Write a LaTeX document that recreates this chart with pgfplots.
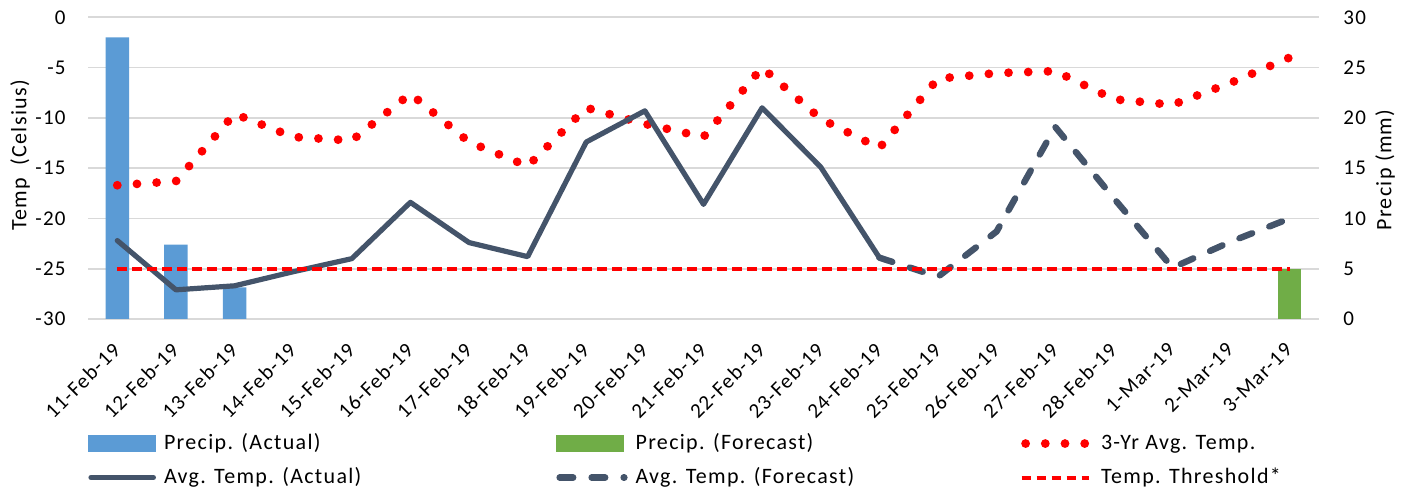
\documentclass[border=0pt]{standalone}
\usepackage{fontspec}
\setmainfont{Carlito}[LetterSpace=6]
\usepackage{pgfplots}
\pgfplotsset{compat=1.18}
\definecolor{barA}{HTML}{5B9BD5}
\definecolor{barF}{HTML}{70AD47}
\definecolor{tline}{HTML}{44546A}
\definecolor{gridc}{HTML}{D9D9D9}
\pgfplotsset{
  common/.style={
    at={(44pt,86pt)}, anchor=south west,
    width=615.5pt, height=150.85pt, scale only axis,
    xmin=-0.5, xmax=20.5,
    axis line style={draw=none},
    major tick length=0pt,
    /pgf/number format/assume math mode=true,
    tick label style={font=\fontsize{10.5}{12}\selectfont},
    label style={font=\fontsize{11}{13}\selectfont},
  },
  mylegline/.style 2 args={legend image code/.code={\draw[##1] (#1,0pt) -- (#2,0pt);}},
  mylegbox/.style={legend image code/.code={\fill[#1] (0pt,-4.15pt) rectangle (33.5pt,4.15pt);}},
}
\begin{document}
\begin{tikzpicture}
\begin{axis}[common,
  ymin=0, ymax=30,
  axis x line=none,
  axis y line*=right,
  ytick={0,5,...,30},
  ymajorgrids, grid style={gridc, line width=0.8pt},
  yticklabel style={inner sep=0pt, anchor=west, xshift=12pt},
  ylabel={Precip (mm)},
  ylabel style={at={(axis description cs:1.0536,0.494)}, anchor=center},
]
\addplot[ybar, bar width=0.4, bar shift=0pt, fill=barA, draw=none] coordinates {(0,28) (1,7.4) (2,3.15)};
\addplot[ybar, bar width=0.4, bar shift=0pt, fill=barF, draw=none] coordinates {(20,5.0)};
\end{axis}
\begin{axis}[common,
  ymin=-30, ymax=0,
  axis y line*=left, axis x line*=bottom,
  ytick={-30,-25,...,0},
  yticklabel style={inner sep=0pt, anchor=east, xshift=-11pt},
  xtick={0,...,20},
  xticklabels={11-Feb-19,12-Feb-19,13-Feb-19,14-Feb-19,15-Feb-19,16-Feb-19,17-Feb-19,18-Feb-19,19-Feb-19,20-Feb-19,21-Feb-19,22-Feb-19,23-Feb-19,24-Feb-19,25-Feb-19,26-Feb-19,27-Feb-19,28-Feb-19,1-Mar-19,2-Mar-19,3-Mar-19},
  xticklabel style={xshift=-3pt, yshift=-11pt, rotate=45, anchor=north east, inner sep=0pt},
  ylabel={Temp\ \ (Celsius)},
  ylabel style={at={(axis description cs:-0.0552,0.542)}, anchor=center},
  legend columns=3,
  legend cell align=left,
  legend style={at={(axis description cs:0,-0.378)}, anchor=north west, draw=none, fill=none,
    inner sep=0pt, outer sep=0pt, row sep=6.5pt, column sep=0pt,
    font=\fontsize{11}{13}\selectfont,
    nodes={inner sep=0pt, text height=8pt, text depth=2.5pt},
    /tikz/every odd column/.append style={column sep=4pt}},
]
\addlegendimage{mylegbox=barA}
\addlegendentry{\makebox[196pt][l]{Precip. (Actual)}}
\addlegendimage{mylegbox=barF}
\addlegendentry{\makebox[192pt][l]{Precip. (Forecast)}}
\addplot[red, line width=4.4pt, line cap=round, dash pattern=on 0pt off 9.85pt,
  mylegline={2pt}{33.5pt}]
  coordinates {(0,-16.7) (1,-16.3) (2,-9.6) (3,-11.9) (4,-12.25) (5,-7.6) (6,-12.4) (7,-14.8) (8,-9.0) (9,-10.6) (10,-11.9) (11,-5.0) (12,-10.1) (13,-13.0) (14,-6.1) (15,-5.55) (16,-5.35) (17,-8.15) (18,-8.7) (19,-6.5) (20,-4.0)};
\addlegendentry{3-Yr Avg. Temp.}
\addplot[tline, line width=2.6pt, line join=round, line cap=round,
  mylegline={1.3pt}{32.5pt}]
  coordinates {(0,-22.2) (1,-27.1) (2,-26.7) (3,-25.3) (4,-24.0) (5,-18.4) (6,-22.4) (7,-23.8) (8,-12.4) (9,-9.3) (10,-18.6) (11,-9.0) (12,-14.9) (13,-23.9)};
\addlegendentry{\makebox[196pt][l]{Avg. Temp. (Actual)}}
\addplot[tline, line width=3.2pt, line join=round, line cap=round, dash pattern=on 6.8pt off 9.2pt,
  mylegline={1.6pt}{34pt}]
  coordinates {(13,-23.9) (14,-25.8) (15,-21.3) (16,-10.9) (17,-18.0) (18,-24.9) (19,-22.3) (20,-20.0)};
\addlegendentry{\makebox[192pt][l]{Avg. Temp. (Forecast)}}
\addplot[red, line width=2pt, dash pattern=on 4.7pt off 2.8pt,
  mylegline={0pt}{33.5pt}]
  coordinates {(0,-25) (20,-25)};
\addlegendentry{Temp. Threshold*}
\end{axis}
\pgfresetboundingbox
\path[use as bounding box] (0,0) rectangle (705.5pt,245.5pt);
\end{tikzpicture}
\end{document}
